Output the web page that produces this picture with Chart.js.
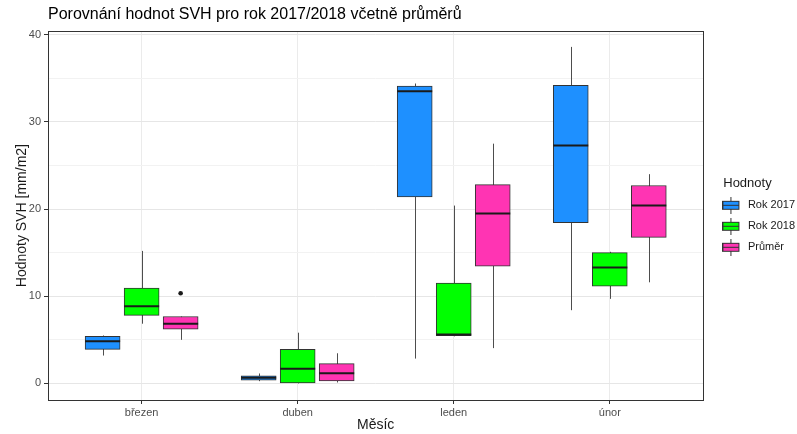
<!DOCTYPE html>
<html>
<head>
<meta charset="utf-8">
<script src="https://cdn.jsdelivr.net/npm/chart.js@4.4.0/dist/chart.umd.min.js"></script>
<style>
  html, body { margin: 0; padding: 0; background: #fff; }
  #wrap { width: 797px; height: 434px; }
</style>
</head>
<body>
<div id="wrap"><canvas id="chart" width="797" height="434"></canvas></div>
<script>
// *** data ***
const MONTHS = ["březen", "duben", "leden", "únor"];
const SERIES = ["Rok 2017", "Rok 2018", "Průměr"];
const COLORS = ["#1E90FF", "#00FF00", "#FF34B3"];

// per month: [lower whisker, q1, median, q3, upper whisker]
const ROK_2017 = [
    [3.2, 3.9, 4.85, 5.4, 5.5],
    [0.26, 0.38, 0.64, 0.87, 1.14],
    [2.85, 21.4, 33.5, 34.1, 34.4],
    [8.4, 18.45, 27.3, 34.2, 38.6]
];
const ROK_2018 = [
    [6.85, 7.8, 8.85, 10.95, 15.2],
    [0.0, 0.0, 1.67, 3.92, 5.82],
    [5.4, 5.48, 5.6, 11.5, 20.4],
    [9.7, 11.15, 13.3, 15.0, 15.1]
];
const PRUMER = [
    [5.0, 6.23, 6.85, 7.68, 7.68],
    [0.11, 0.3, 1.18, 2.28, 3.46],
    [4.05, 13.45, 19.5, 22.8, 27.5],
    [11.6, 16.75, 20.4, 22.7, 24.0]
];
// outliers: [month index, series index, value]
const OUTLIERS = [[0, 2, 10.35]];

const STATS = [ROK_2017, ROK_2018, PRUMER];
const DODGE = [-0.25, 0, 0.25];
const BOX_PX = 35;

// *** legend key glyph like ggplot's (drawn in the left 17px of a 20px canvas) ***
function keyGlyph(color) {
    const c = document.createElement("canvas");
    c.width = 20; c.height = 17;
    const g = c.getContext("2d");
    g.strokeStyle = "#333333";
    g.lineWidth = 1;
    g.beginPath(); g.moveTo(8.5, 0); g.lineTo(8.5, 17); g.stroke();
    g.fillStyle = color;
    g.fillRect(0.5, 4.5, 16, 8);
    g.strokeRect(0.5, 4.5, 16, 8);
    g.beginPath(); g.moveTo(0.5, 8.5); g.lineTo(16.5, 8.5); g.stroke();
    return c;
}

const DATA_SETS = SERIES.map((name, s) => ({
    label: name,
    backgroundColor: COLORS[s],
    borderColor: "#333333",
    borderWidth: 1,
    borderSkipped: false,
    barThickness: BOX_PX,
    grouped: false,
    data: STATS[s].map((st, m) => ({ x: m + 1 + DODGE[s], y: [st[1], st[3]] }))
}));

// whiskers under the boxes, medians and outliers on top
const boxplotExtras = {
    id: "boxplotExtras",
    afterLayout(chart) {
        // push the legend a bit away from the panel, like ggplot
        if (chart.legend) {
            chart.legend.left += 9;
            chart.legend.right += 9;
            chart.legend.top += 3;
            chart.legend.bottom += 3;
        }
    },
    beforeDatasetsDraw(chart) {
        const { ctx, scales: { x, y } } = chart;
        ctx.save();
        ctx.strokeStyle = "#4d4d4d";
        ctx.lineWidth = 1;
        STATS.forEach((ser, s) => ser.forEach((st, m) => {
            const px = Math.round(x.getPixelForValue(m + 1 + DODGE[s])) + 0.5;
            ctx.beginPath();
            ctx.moveTo(px, y.getPixelForValue(st[0]));
            ctx.lineTo(px, y.getPixelForValue(st[4]));
            ctx.stroke();
        }));
        ctx.restore();
    },
    afterDatasetsDraw(chart) {
        const { ctx, scales: { x, y } } = chart;
        ctx.save();
        ctx.strokeStyle = "#1a1a1a";
        ctx.lineWidth = 2;
        STATS.forEach((ser, s) => ser.forEach((st, m) => {
            const px = x.getPixelForValue(m + 1 + DODGE[s]);
            const py = y.getPixelForValue(st[2]);
            ctx.beginPath();
            ctx.moveTo(px - BOX_PX / 2, py);
            ctx.lineTo(px + BOX_PX / 2, py);
            ctx.stroke();
        }));
        ctx.fillStyle = "#1a1a1a";
        OUTLIERS.forEach(([m, s, v]) => {
            ctx.beginPath();
            ctx.arc(x.getPixelForValue(m + 1 + DODGE[s]), y.getPixelForValue(v), 2.3, 0, Math.PI * 2);
            ctx.fill();
        });
        // panel border
        const a = chart.chartArea;
        ctx.strokeStyle = "#333333";
        ctx.lineWidth = 1;
        ctx.strokeRect(Math.round(a.left) + 0.5, Math.round(a.top) + 0.5,
            Math.round(a.right - a.left), Math.round(a.bottom - a.top));
        ctx.restore();
    }
};

const FONT = "'Liberation Sans', Arial, sans-serif";

new Chart(document.getElementById("chart"), {
    type: "bar",
    data: { datasets: DATA_SETS },
    plugins: [boxplotExtras],
    options: {
        responsive: false,
        animation: false,
        layout: { padding: { left: 14, right: 1, top: 0, bottom: 0 } },
        scales: {
            x: {
                type: "linear",
                min: 0.4,
                max: 4.6,
                offset: false,
                afterBuildTicks: s => { s.ticks = MONTHS.map((_, i) => ({ value: i + 1 })); },
                afterFit: s => { s.height = 34; },
                ticks: {
                    callback: v => MONTHS[v - 1],
                    color: "#4d4d4d",
                    font: { family: FONT, size: 11 },
                    padding: 2
                },
                grid: { offset: false, color: "#ebebeb", tickColor: "#333333", tickLength: 4, drawOnChartArea: true },
                border: { display: false },
                title: { display: true, text: "Měsíc", color: "#1a1a1a", font: { family: FONT, size: 14 }, padding: { top: 4, bottom: 0 } }
            },
            y: {
                min: -1.9,
                max: 40.4,
                afterBuildTicks: s => {
                    const t = [];
                    for (let v = 0; v <= 40; v += 5) t.push({ value: v });
                    s.ticks = t;
                },
                afterFit: s => { s.width = 34; },
                ticks: {
                    callback: v => (v % 10 === 0 ? v : ""),
                    color: "#4d4d4d",
                    font: { family: FONT, size: 11 },
                    padding: 3
                },
                grid: {
                    color: c => (c.tick && c.tick.value % 10 === 0 ? "#e6e6e6" : "#f2f2f2"),
                    tickColor: c => (c.tick && c.tick.value % 10 === 0 ? "#333333" : "rgba(0,0,0,0)"),
                    tickLength: 4
                },
                border: { display: false },
                title: { display: true, text: "Hodnoty SVH [mm/m2]", color: "#1a1a1a", font: { family: FONT, size: 14 }, padding: { top: 0, bottom: 2 } }
            }
        },
        plugins: {
            title: {
                display: true,
                text: "Porovnání hodnot SVH pro rok 2017/2018 včetně průměrů",
                align: "start",
                fullSize: false,
                color: "#000000",
                font: { family: FONT, size: 16, weight: "normal" },
                padding: { top: 5, bottom: 7 }
            },
            legend: {
                position: "right",
                // non-breaking spaces line the title up with the keys
                title: { display: true, position: "start", text: "\u00a0\u00a0\u00a0Hodnoty", color: "#1a1a1a", font: { family: FONT, size: 13 }, padding: { top: 0, bottom: -3 } },
                labels: {
                    usePointStyle: true,
                    pointStyleWidth: 20,
                    color: "#1a1a1a",
                    font: { family: FONT, size: 11 },
                    padding: 10,
                    generateLabels: chart => chart.data.datasets.map((ds, i) => ({
                        text: ds.label,
                        pointStyle: keyGlyph(COLORS[i]),
                        fillStyle: COLORS[i],
                        strokeStyle: "#333333",
                        lineWidth: 0,
                        hidden: false,
                        datasetIndex: i,
                        fontColor: "#1a1a1a"
                    }))
                }
            },
            tooltip: { enabled: false }
        }
    }
});
</script>
</body>
</html>
